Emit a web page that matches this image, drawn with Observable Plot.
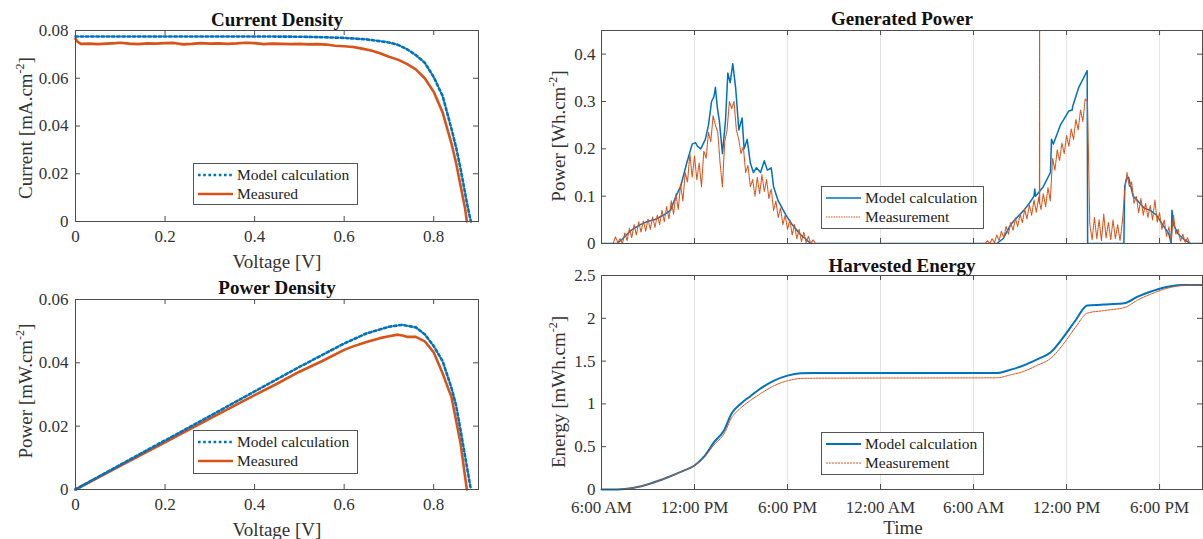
<!DOCTYPE html>
<html><head><meta charset="utf-8">
<script src="https://cdn.jsdelivr.net/npm/d3@7"></script>
<script src="https://cdn.jsdelivr.net/npm/@observablehq/plot@0.6"></script>
<style>
body{margin:0;background:#fff;}
#root{position:relative;width:1203px;height:539px;overflow:hidden;font-family:"Liberation Serif","Times New Roman",serif;color:#333;background:#fff;}
.panel{position:absolute;}
.title{position:absolute;font-weight:bold;font-size:19px;transform:translate(-50%,-50%);white-space:nowrap;color:#111;}
.xlabel{position:absolute;font-size:19px;transform:translate(-50%,-50%);white-space:nowrap;}
.ylabel{position:absolute;font-size:19px;transform:translate(-50%,-50%) rotate(-90deg);white-space:nowrap;}
.ylabel sup{font-size:12px;}
.legend{position:absolute;background:#fff;border:1px solid #555;box-sizing:border-box;font-size:15.5px;color:#222;}
.legend .row{position:absolute;left:3px;display:flex;align-items:center;white-space:nowrap;}
.legend svg{margin-right:3px;}
</style></head>
<body><div id="root"></div>
<script>
// ---------- Data ----------
const blue = "#0072BD", orange = "#D95319";
// Current density (I-V)
const modelV = [0, 0.1, 0.2, 0.3, 0.4, 0.5, 0.55, 0.6, 0.65, 0.7, 0.72, 0.74, 0.76, 0.78, 0.8, 0.82, 0.84, 0.85, 0.86, 0.87, 0.875, 0.88, 0.883];
const modelI = [0.0775, 0.0775, 0.0775, 0.0775, 0.0775, 0.0774, 0.0772, 0.0769, 0.0763, 0.0750, 0.0740, 0.0722, 0.0697, 0.0665, 0.0605, 0.0525, 0.0385, 0.0310, 0.0220, 0.0120, 0.0070, 0.0025, 0];
const measV = [0, 0.005, 0.012, 0.03, 0.05, 0.07, 0.09, 0.1, 0.12, 0.14, 0.16, 0.18, 0.2, 0.22, 0.24, 0.26, 0.28, 0.3, 0.32, 0.34, 0.36, 0.38, 0.4, 0.42, 0.44, 0.46, 0.48, 0.5, 0.52, 0.54, 0.56, 0.58, 0.6, 0.62, 0.64, 0.66, 0.68, 0.7, 0.72, 0.74, 0.76, 0.78, 0.8, 0.82, 0.84, 0.85, 0.86, 0.87, 0.874];
const measI = [0.0765, 0.0752, 0.0744, 0.0745, 0.0743, 0.0745, 0.0747, 0.0749, 0.0745, 0.0743, 0.0746, 0.0745, 0.0747, 0.0748, 0.0742, 0.0744, 0.0747, 0.0745, 0.0746, 0.0744, 0.0746, 0.0749, 0.0747, 0.0743, 0.0745, 0.0744, 0.0743, 0.0744, 0.0742, 0.0743, 0.0741, 0.0736, 0.0734, 0.0731, 0.0724, 0.0716, 0.0705, 0.0690, 0.0678, 0.0660, 0.0637, 0.0600, 0.0543, 0.0456, 0.0324, 0.0245, 0.0150, 0.0055, 0];
// Power density (P-V)
const modelPowV = [0, 0.1, 0.2, 0.3, 0.4, 0.5, 0.6, 0.65, 0.7, 0.73, 0.76, 0.78, 0.8, 0.82, 0.84, 0.85, 0.86, 0.87, 0.878, 0.883];
const modelPow = [0, 0.0078, 0.0155, 0.0232, 0.0310, 0.0387, 0.0461, 0.0493, 0.0514, 0.0520, 0.0512, 0.0490, 0.0453, 0.0405, 0.0319, 0.0265, 0.0187, 0.0105, 0.0040, 0];
const measPowV = [0, 0.1, 0.2, 0.3, 0.4, 0.45, 0.5, 0.55, 0.6, 0.62, 0.65, 0.68, 0.7, 0.72, 0.73, 0.74, 0.76, 0.78, 0.8, 0.82, 0.84, 0.86, 0.874];
const measPow = [0, 0.0075, 0.0149, 0.0224, 0.0298, 0.0334, 0.0372, 0.0405, 0.0441, 0.0452, 0.0466, 0.0478, 0.0484, 0.0489, 0.0486, 0.0482, 0.0482, 0.0468, 0.0433, 0.0366, 0.0290, 0.0145, 0];
// Tick labels
const vTicks = [0, 0.2, 0.4, 0.6, 0.8];
const iTicks = [0, 0.02, 0.04, 0.06, 0.08];
const pdTicks = [0, 0.02, 0.04, 0.06];
const genTicks = [0, 0.1, 0.2, 0.3, 0.4];
const enTicks = [0, 0.5, 1, 1.5, 2, 2.5];
const timeTicks = [0, 6, 12, 18, 24, 30, 36]; // hours after 6:00 AM day 1
const timeLabels = ["6:00 AM", "12:00 PM", "6:00 PM", "12:00 AM", "6:00 AM", "12:00 PM", "6:00 PM"];
// Generated power: model (hours, value)
const modelPowerHours = [0, 1.0, 1.3, 1.66, 2.0, 2.5, 3.0, 3.4, 3.7, 4.0, 4.45, 4.8, 5.1, 5.5, 5.85, 6.06, 6.2, 6.4, 6.7, 6.9, 7.1, 7.25, 7.35, 7.46, 7.55, 7.6, 7.8, 8.0, 8.15, 8.3, 8.47, 8.65, 8.86, 9.07, 9.2, 9.4, 9.6, 9.8, 10.0, 10.26, 10.5, 10.7, 10.95, 11.1, 11.4, 11.9, 12.3, 12.8, 13.5,
  25.5, 25.9, 26.4, 26.8, 27.24, 27.6, 27.9, 27.95, 28.0, 28.5, 28.96, 29.03, 29.15, 29.6, 30.15, 30.36, 30.4, 30.79, 31.33, 31.36, 33.7, 33.75, 33.85, 34.0, 34.15, 34.3, 34.6, 35.0, 35.4, 35.8, 36.2, 36.6, 36.75, 36.8, 36.9, 37.2, 37.6, 38.0, 38.8];
const modelPowerValues = [0, 0, 0.008, 0.02, 0.03, 0.04, 0.047, 0.05, 0.055, 0.06, 0.07, 0.10, 0.12, 0.17, 0.21, 0.213, 0.205, 0.20, 0.22, 0.25, 0.30, 0.31, 0.33, 0.29, 0.27, 0.26, 0.19, 0.26, 0.36, 0.34, 0.38, 0.33, 0.24, 0.265, 0.20, 0.22, 0.17, 0.15, 0.16, 0.15, 0.175, 0.155, 0.16, 0.12, 0.09, 0.06, 0.04, 0.02, 0,
  0, 0.01, 0.04, 0.055, 0.07, 0.085, 0.10, 0.115, 0.10, 0.12, 0.15, 0.22, 0.21, 0.25, 0.28, 0.282, 0.29, 0.33, 0.365, 0, 0, 0.12, 0.135, 0.14, 0.12, 0.10, 0.09, 0.075, 0.07, 0.06, 0.04, 0.02, 0, 0.07, 0.04, 0.02, 0.008, 0, 0];
// Generated power: measurement sampled every 0.15 h
const measStep = 0.15;
const measDay1Start = 0.75;
const measDay1 = [0, 0.014, 0.002, 0.010, 0.000, 0.022, 0.006, 0.032, 0.012, 0.040,
  0.018, 0.046, 0.024, 0.048, 0.026, 0.052, 0.030, 0.056, 0.034, 0.060,
  0.040, 0.070, 0.046, 0.078, 0.052, 0.090, 0.062, 0.105, 0.072, 0.125,
  0.090, 0.150, 0.130, 0.190, 0.140, 0.185, 0.135, 0.170, 0.120, 0.195,
  0.180, 0.235, 0.215, 0.270, 0.250, 0.235, 0.170, 0.120, 0.215, 0.240,
  0.300, 0.285, 0.300, 0.240, 0.220, 0.190, 0.205, 0.150, 0.165, 0.120,
  0.135, 0.100, 0.140, 0.105, 0.145, 0.110, 0.135, 0.095, 0.115, 0.070,
  0.090, 0.055, 0.075, 0.040, 0.060, 0.030, 0.050, 0.018, 0.040, 0.010,
  0.030, 0.004, 0.024, 0.002, 0.015, 0.000, 0.008, 0];
const measDay2Start = 24.75;
const measDay2 = [0, 0.006, 0.000, 0.010, 0.002, 0.018, 0.006, 0.026, 0.012, 0.036,
  0.020, 0.044, 0.028, 0.054, 0.036, 0.062, 0.044, 0.072, 0.052, 0.082,
  0.060, 0.092, 0.066, 0.098, 0.072, 0.105, 0.078, 0.118, 0.090, 0.180,
  0.155, 0.198, 0.175, 0.212, 0.190, 0.228, 0.205, 0.242, 0.220, 0.262,
  0.240, 0.282, 0.258, 0.305, 0.300, 0.040, 0.008, 0.055, 0.010, 0.050,
  0.006, 0.062, 0.012, 0.045, 0.008, 0.050, 0.010, 0.040, 0.006, 0.045,
  0.110, 0.150, 0.120, 0.130, 0.085, 0.100, 0.065, 0.095, 0.060, 0.085,
  0.055, 0.080, 0.050, 0.092, 0.045, 0.065, 0.030, 0.050, 0.015, 0.035,
  0.005, 0.060, 0.020, 0.030, 0.005, 0.020, 0.002, 0.012, 0.000, 0];
const measSpikeHours = [28.25, 28.26, 28.27];
const measSpikeValues = [0.085, 0.6, 0.085];
// Harvested energy
const energyHours = [0, 1, 2.1, 3.16, 4.24, 5.3, 6, 6.6, 7.25, 7.9, 8.4, 8.97, 9.6, 10.26, 11.1, 12, 12.84, 13.7, 25.5, 26.4, 27.24, 28.1, 28.96, 29.8, 30.6, 31.33, 32.4, 33.8, 34.55, 35.4, 36.3, 37.35, 38.8];
const modelEnergy = [0, 0, 0.02, 0.07, 0.14, 0.22, 0.28, 0.38, 0.55, 0.69, 0.89, 1.0, 1.09, 1.18, 1.27, 1.33, 1.357, 1.36, 1.36, 1.40, 1.45, 1.52, 1.60, 1.78, 1.98, 2.15, 2.16, 2.18, 2.25, 2.31, 2.36, 2.39, 2.39];
const measEnergy = [0, 0, 0.02, 0.07, 0.14, 0.22, 0.28, 0.37, 0.52, 0.65, 0.84, 0.95, 1.04, 1.12, 1.21, 1.27, 1.297, 1.30, 1.305, 1.34, 1.38, 1.45, 1.53, 1.70, 1.90, 2.06, 2.09, 2.13, 2.21, 2.28, 2.34, 2.38, 2.39];

// ---------- Helpers ----------
const zip = (xs, ys) => xs.map((x, i) => ({x, y: ys[i]}));
const measPowerData = [
  ...measDay1.map((y, i) => ({x: measDay1Start + i * measStep, y})),
  ...zip(measSpikeHours, measSpikeValues),
  ...measDay2.map((y, i) => ({x: measDay2Start + i * measStep, y}))
].sort((a, b) => a.x - b.x);
measPowerData.unshift({x: 0, y: 0});
measPowerData.push({x: 38.8, y: 0});
const fmtNum = d => String(d);
const axisColor = "#4d4d4d";
const root = document.getElementById("root");

function frameTicks(xt, yt, iw, ih) {
  return [
    Plot.tickX(xt, {x: d => d, insetTop: ih - 5, stroke: axisColor}),
    Plot.tickX(xt, {x: d => d, insetBottom: ih - 5, stroke: axisColor}),
    Plot.tickY(yt, {y: d => d, insetRight: iw - 5, stroke: axisColor}),
    Plot.tickY(yt, {y: d => d, insetLeft: iw - 5, stroke: axisColor}),
    Plot.frame({stroke: axisColor, strokeWidth: 1})
  ];
}
const style = {fontFamily: "'Liberation Serif', serif", fontSize: "17px", color: "#333", background: "transparent", overflow: "visible"};

function place(el, left, top) {
  const d = document.createElement("div");
  d.className = "panel"; d.style.left = left + "px"; d.style.top = top + "px";
  d.appendChild(el); root.appendChild(d);
}
function addText(cls, html, x, y) {
  const d = document.createElement("div");
  d.className = cls; d.innerHTML = html; d.style.left = x + "px"; d.style.top = y + "px";
  root.appendChild(d);
}
function sample(color, dash, w) {
  return `<svg width="37" height="10"><line x1="1" y1="5" x2="36" y2="5" stroke="${color}" stroke-width="${w}" ${dash ? `stroke-dasharray="${dash}"` : ""}/></svg>`;
}
function addLegend(x, y, w, h, items) {
  const d = document.createElement("div");
  d.className = "legend";
  Object.assign(d.style, {left: x + "px", top: y + "px", width: w + "px", height: h + "px"});
  d.innerHTML = items.map((it, i) => `<div class="row" style="top:${2 + i * 19}px">${sample(it.color, it.dash, it.w)}<span>${it.label}</span></div>`).join("");
  root.appendChild(d);
}

// ---------- Panel 1: Current Density ----------
{
  const W = 480, H = 260, ml = 75, mr = 2, mt = 30, mb = 39;
  const p = Plot.plot({
    width: W, height: H, marginLeft: ml, marginRight: mr, marginTop: mt, marginBottom: mb, style,
    x: {domain: [0, 0.9]}, y: {domain: [0, 0.08]},
    marks: [
      Plot.line(zip(measV, measI), {x: "x", y: "y", stroke: orange, strokeWidth: 2.6}),
      Plot.line(zip(modelV, modelI), {x: "x", y: "y", stroke: blue, strokeWidth: 2.6, strokeDasharray: "2.6,2.6"}),
      ...frameTicks(vTicks, iTicks, W - ml - mr, H - mt - mb),
      Plot.axisX(vTicks, {tickSize: 0, tickPadding: 8, tickFormat: fmtNum, label: null}),
      Plot.axisY(iTicks, {tickSize: 0, tickPadding: 7, tickFormat: fmtNum, label: null})
    ]
  });
  place(p, 0, 0);
}
// ---------- Panel 2: Power Density ----------
{
  const W = 480, H = 260, ml = 75, mr = 2, mt = 29, mb = 41;
  const p = Plot.plot({
    width: W, height: H, marginLeft: ml, marginRight: mr, marginTop: mt, marginBottom: mb, style,
    x: {domain: [0, 0.9]}, y: {domain: [0, 0.06]},
    marks: [
      Plot.line(zip(measPowV, measPow), {x: "x", y: "y", stroke: orange, strokeWidth: 2.6}),
      Plot.line(zip(modelPowV, modelPow), {x: "x", y: "y", stroke: blue, strokeWidth: 2.6, strokeDasharray: "2.6,2.6"}),
      ...frameTicks(vTicks, pdTicks, W - ml - mr, H - mt - mb),
      Plot.axisX(vTicks, {tickSize: 0, tickPadding: 8, tickFormat: fmtNum, label: null}),
      Plot.axisY(pdTicks, {tickSize: 0, tickPadding: 7, tickFormat: fmtNum, label: null})
    ]
  });
  place(p, 0, 270);
}
// ---------- Panel 3: Generated Power ----------
{
  const W = 663, H = 260, ml = 61, mr = 1, mt = 30, mb = 17;
  const p = Plot.plot({
    width: W, height: H, marginLeft: ml, marginRight: mr, marginTop: mt, marginBottom: mb, style,
    x: {domain: [0, 38.77], axis: null}, y: {domain: [0, 0.45]},
    marks: [
      Plot.ruleX(timeTicks, {x: d => d, stroke: "#e3e3e3", strokeWidth: 1}),
      Plot.line(zip(modelPowerHours, modelPowerValues), {x: "x", y: "y", stroke: blue, strokeWidth: 1.5, clip: true}),
      Plot.line(measPowerData, {x: "x", y: "y", stroke: orange, strokeWidth: 1.1, strokeDasharray: "1.5,0.8", clip: true}),
      ...frameTicks(timeTicks, genTicks, W - ml - mr, H - mt - mb),
      Plot.axisY(genTicks, {tickSize: 0, tickPadding: 6, tickFormat: fmtNum, label: null})
    ]
  });
  place(p, 540, 0);
}
// ---------- Panel 4: Harvested Energy ----------
{
  const W = 663, H = 279, ml = 61, mr = 1, mt = 15, mb = 50;
  const p = Plot.plot({
    width: W, height: H, marginLeft: ml, marginRight: mr, marginTop: mt, marginBottom: mb, style,
    x: {domain: [0, 38.77]}, y: {domain: [0, 2.5]},
    marks: [
      Plot.ruleX(timeTicks, {x: d => d, stroke: "#e3e3e3", strokeWidth: 1}),
      Plot.line(zip(energyHours, modelEnergy), {x: "x", y: "y", stroke: blue, strokeWidth: 2, curve: "monotone-x"}),
      Plot.line(zip(energyHours, measEnergy), {x: "x", y: "y", stroke: orange, strokeWidth: 1, strokeDasharray: "2,1", curve: "monotone-x"}),
      ...frameTicks(timeTicks, enTicks, W - ml - mr, H - mt - mb),
      Plot.axisX(timeTicks, {tickSize: 0, tickPadding: 11, tickFormat: d => timeLabels[timeTicks.indexOf(d)], label: null}),
      Plot.axisY(enTicks, {tickSize: 0, tickPadding: 6, tickFormat: fmtNum, label: null})
    ]
  });
  place(p, 540, 260);
}

// ---------- Text ----------
addText("title", "Current Density", 277, 20);
addText("title", "Power Density", 277, 288);
addText("title", "Generated Power", 902, 19);
addText("title", "Harvested Energy", 902, 266);
addText("xlabel", "Voltage [V]", 277, 262);
addText("xlabel", "Voltage [V]", 277, 530);
addText("xlabel", "Time", 903, 528);
addText("ylabel", "Current [mA.cm<sup>-2</sup>]", 25, 128);
addText("ylabel", "Power [mW.cm<sup>-2</sup>]", 25, 391);
addText("ylabel", "Power [Wh.cm<sup>-2</sup>]", 558, 136);
addText("ylabel", "Energy [mWh.cm<sup>-2</sup>]", 558, 392);

// ---------- Legends ----------
addLegend(193, 163, 165, 42, [
  {label: "Model calculation", color: blue, dash: "2.6,2.6", w: 2.6},
  {label: "Measured", color: orange, dash: null, w: 2.6}
]);
addLegend(193, 430, 165, 44, [
  {label: "Model calculation", color: blue, dash: "2.6,2.6", w: 2.6},
  {label: "Measured", color: orange, dash: null, w: 2.6}
]);
addLegend(821, 186, 163, 43, [
  {label: "Model calculation", color: blue, dash: null, w: 1.5},
  {label: "Measurement", color: orange, dash: "1.5,1", w: 1}
]);
addLegend(821, 432, 163, 43, [
  {label: "Model calculation", color: blue, dash: null, w: 2},
  {label: "Measurement", color: orange, dash: "2,1", w: 1}
]);
</script>
</body></html>
